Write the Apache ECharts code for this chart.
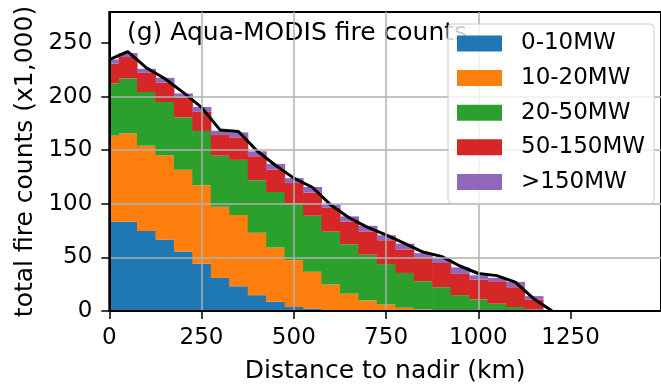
<!DOCTYPE html>
<html>
<head>
<meta charset="utf-8">
<script src="https://cdn.jsdelivr.net/npm/echarts@6/dist/echarts.min.js"></script>
<style>
  html, body { margin: 0; padding: 0; background: #fff; }
  #chart { width: 661px; height: 389px; }
</style>
</head>
<body>
<div id="chart"></div>
<script>
// bin centres (km), 50 km wide bins
const binCenters = [0, 50, 100, 150, 200, 250, 300, 350, 400, 450, 500, 550,
  600, 650, 700, 750, 800, 850, 900, 950, 1000, 1050, 1100, 1150];
// fire counts (x1,000) per FRP class
const frp0to10 = [83.3, 83.3, 74.7, 66.7, 55.6, 44.1, 30.9, 23.1, 14.8, 8.6, 3.7, 2.2,
  0.9, 0.4, 0.2, 0.1, 0, 0, 0, 0, 0, 0, 0, 0];
const frp10to20 = [80.3, 82.4, 79.6, 78.3, 76.2, 73.2, 66.3, 66.4, 58.3, 50.7, 43.8, 34.5,
  23.8, 15.8, 9.7, 6.1, 3.0, 1.5, 0.6, 0.3, 0.2, 0.1, 0, 0];
const frp20to50 = [48.7, 51.3, 50.0, 50.0, 48.8, 50.7, 47.8, 51.5, 48.9, 51.7, 52.8, 52.3,
  49.3, 46.1, 42.6, 37.6, 32.5, 26.3, 21.6, 14.5, 10.6, 6.7, 3.7, 1.5];
const frp50to150 = [18.6, 20.0, 17.9, 18.0, 18.4, 17.8, 19.2, 21.0, 22.4, 21.0, 19.1, 21.5,
  22.3, 21.0, 21.8, 22.2, 22.0, 21.8, 22.6, 19.8, 18.5, 21.0, 18.5, 9.3];
const frpOver150 = [3.7, 3.7, 3.8, 4.6, 4.0, 4.6, 4.0, 4.7, 4.6, 5.3, 4.6, 5.2,
  3.1, 5.0, 5.2, 4.7, 5.3, 4.4, 4.6, 6.1, 4.0, 3.1, 5.0, 3.1];
// total curve
const totalX = [0, 50, 100, 150, 200, 250, 300, 350, 400, 450, 500, 550, 600,
  650, 700, 750, 800, 850, 900, 950, 1000, 1050, 1100, 1150, 1200];
const totalCounts = [234.6, 242, 227, 217, 204, 190, 169, 167.5, 149.5, 136, 124, 115.5, 99,
  87, 78, 71, 63, 55, 51, 42, 35, 33, 27, 11.5, 0];

const classNames = ["0-10MW", "10-20MW", "20-50MW", "50-150MW", ">150MW"];
const classColors = ["#1f77b4", "#ff7f0e", "#2ca02c", "#d62728", "#9467bd"];
const xTicks = [0, 250, 500, 750, 1000, 1250];
const yTicks = [0, 50, 100, 150, 200, 250];
const binWidth = 50;

const font = "DejaVu Sans";
var chart = echarts.init(document.getElementById("chart"));

function renderBin(params, api) {
  var x = api.value(0), lo = api.value(1), hi = api.value(2);
  if (hi <= lo) return;
  var p0 = api.coord([x - binWidth / 2, hi]);
  var p1 = api.coord([x + binWidth / 2, lo]);
  var rect = echarts.graphic.clipRectByRect(
    { x: p0[0], y: p0[1], width: p1[0] - p0[0] + 0.6, height: p1[1] - p0[1] },
    { x: params.coordSys.x, y: params.coordSys.y, width: params.coordSys.width, height: params.coordSys.height }
  );
  return rect && { type: "rect", shape: rect, style: { fill: api.visual("color") } };
}

var layers = [frp0to10, frp10to20, frp20to50, frp50to150, frpOver150];
var base = binCenters.map(function () { return 0; });
var series = [];
layers.forEach(function (vals, k) {
  var data = [];
  for (var i = 0; i < binCenters.length; i++) {
    data.push([binCenters[i], base[i], base[i] + vals[i]]);
    base[i] += vals[i];
  }
  series.push({
    name: classNames[k],
    type: "custom",
    renderItem: renderBin,
    encode: { x: 0, y: [1, 2] },
    itemStyle: { color: classColors[k] },
    data: data,
    z: 2,
  });
});
series.push({
  name: "total",
  type: "line",
  data: totalX.map(function (x, i) { return [x, totalCounts[i]]; }),
  symbol: "none",
  lineStyle: { color: "#000", width: 3 },
  itemStyle: { color: "#000" },
  z: 3,
  silent: true,
});

var option = {
  animation: false,
  textStyle: { fontFamily: font },
  title: {
    text: "(g) Aqua-MODIS fire counts",
    left: 127,
    top: 21,
    padding: 0,
    z: 3,
    textStyle: { fontFamily: font, fontSize: 25, fontWeight: "normal", color: "#000" },
  },
  legend: {
    data: classNames,
    orient: "vertical",
    left: 448,
    top: 24,
    padding: [8, 9, 10, 9],
    itemWidth: 45,
    itemHeight: 16,
    itemGap: 11.6,
    icon: "rect",
    backgroundColor: "rgba(255,255,255,0.8)",
    borderColor: "#cccccc",
    borderWidth: 1,
    borderRadius: 4,
    z: 10,
    textStyle: { fontFamily: font, fontSize: 23, color: "#000", lineHeight: 23, padding: [0, 0, 0, 14] },
  },
  grid: {
    left: 109.3,
    right: -2.5,
    top: 12,
    bottom: 75.7,
    show: true,
    borderColor: "#000",
    borderWidth: 2,
    backgroundColor: "transparent",
  },
  xAxis: {
    type: "value",
    min: 0,
    max: 1495,
    interval: 250,
    z: 6,
    name: "Distance to nadir (km)",
    nameLocation: "middle",
    nameGap: 48,
    nameTextStyle: { fontFamily: font, fontSize: 25, color: "#000" },
    axisLine: { show: true, lineStyle: { color: "#000", width: 2 } },
    axisTick: { show: true, length: 8, lineStyle: { color: "#000", width: 1.5 }, customValues: xTicks },
    axisLabel: {
      fontFamily: font, fontSize: 23, color: "#000", margin: 16, customValues: xTicks,
      formatter: function (v) { return String(v); },
    },
    splitLine: { show: true, showMinLine: false, showMaxLine: false, lineStyle: { color: "#b0b0b0", width: 1.5 } },
  },
  yAxis: {
    type: "value",
    min: 0,
    max: 279,
    interval: 50,
    z: 5,
    name: "total fire counts (x1,000)",
    nameLocation: "middle",
    nameGap: 71,
    nameTextStyle: { fontFamily: font, fontSize: 25, color: "#000" },
    axisLine: { show: true, lineStyle: { color: "#000", width: 2 } },
    axisTick: { show: true, length: 8, lineStyle: { color: "#000", width: 1.5 }, customValues: yTicks },
    axisLabel: {
      fontFamily: font, fontSize: 23, color: "#000", margin: 17, customValues: yTicks,
      formatter: function (v) { return String(v); },
    },
    splitLine: { show: true, showMinLine: false, showMaxLine: false, lineStyle: { color: "#b0b0b0", width: 1.5 } },
  },
  series: series,
};
chart.setOption(option);
</script>
</body>
</html>
